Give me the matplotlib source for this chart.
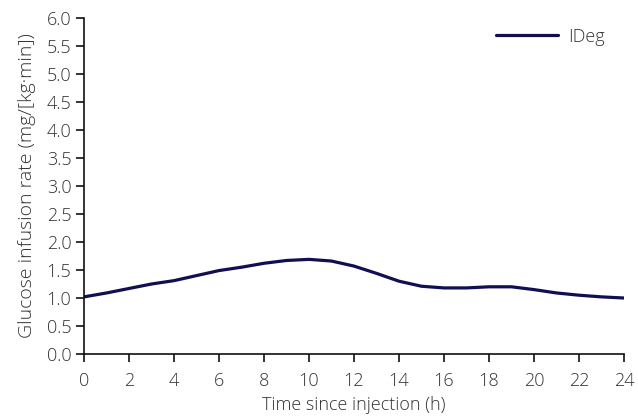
import matplotlib
matplotlib.use("Agg")
import matplotlib.pyplot as plt

hours = [0, 1, 2, 3, 4, 5, 6, 7, 8, 9, 10, 11, 12, 13, 14, 15, 16, 17, 18, 19, 20, 21, 22, 23, 24]
ideg = [1.02, 1.09, 1.17, 1.25, 1.31, 1.40, 1.49, 1.55, 1.62, 1.67, 1.69, 1.66, 1.57, 1.44, 1.30,
        1.21, 1.18, 1.18, 1.20, 1.20, 1.15, 1.09, 1.05, 1.02, 1.00]
xticks = list(range(0, 25, 2))
yticks = [i * 0.5 for i in range(13)]

plt.rcParams['font.family'] = ['Open Sans', 'DejaVu Sans']
plt.rcParams['font.weight'] = 'light'
txt = '#333333'

fig = plt.figure(figsize=(6.38, 4.19), dpi=100)
ax = fig.add_axes([84/638, 1-354/419, 540/638, 336/419])
ax.plot(hours, ideg, color='#0f0f52', lw=2.3, solid_joinstyle='round', solid_capstyle='round', label='IDeg')
ax.set_xlim(0, 24)
ax.set_ylim(0, 6.0)
ax.set_xticks(xticks)
ax.set_yticks(yticks)
ax.set_yticklabels([f"{v:.1f}" for v in yticks])
for s in ['top', 'right']:
    ax.spines[s].set_visible(False)
for s in ['left', 'bottom']:
    ax.spines[s].set_linewidth(1.2)
    ax.spines[s].set_color('#111111')
ax.tick_params(direction='out', length=6, width=1.2, color='#111111', labelsize=13, labelcolor=txt)
ax.tick_params(axis='x', pad=7)
ax.tick_params(axis='y', pad=3)
ax.set_xlabel('Time since injection (h)', fontsize=13, color=txt, labelpad=4, fontweight='light')
ax.set_ylabel('Glucose infusion rate (mg/[kg·min])', fontsize=14, color=txt, labelpad=8, fontweight='light')
leg = ax.legend(loc='upper right', frameon=False, fontsize=13, handlelength=3.4, labelcolor=txt,
                bbox_to_anchor=(0.995, 1.02), handletextpad=0.6)
fig.savefig('out.png', dpi=100)
